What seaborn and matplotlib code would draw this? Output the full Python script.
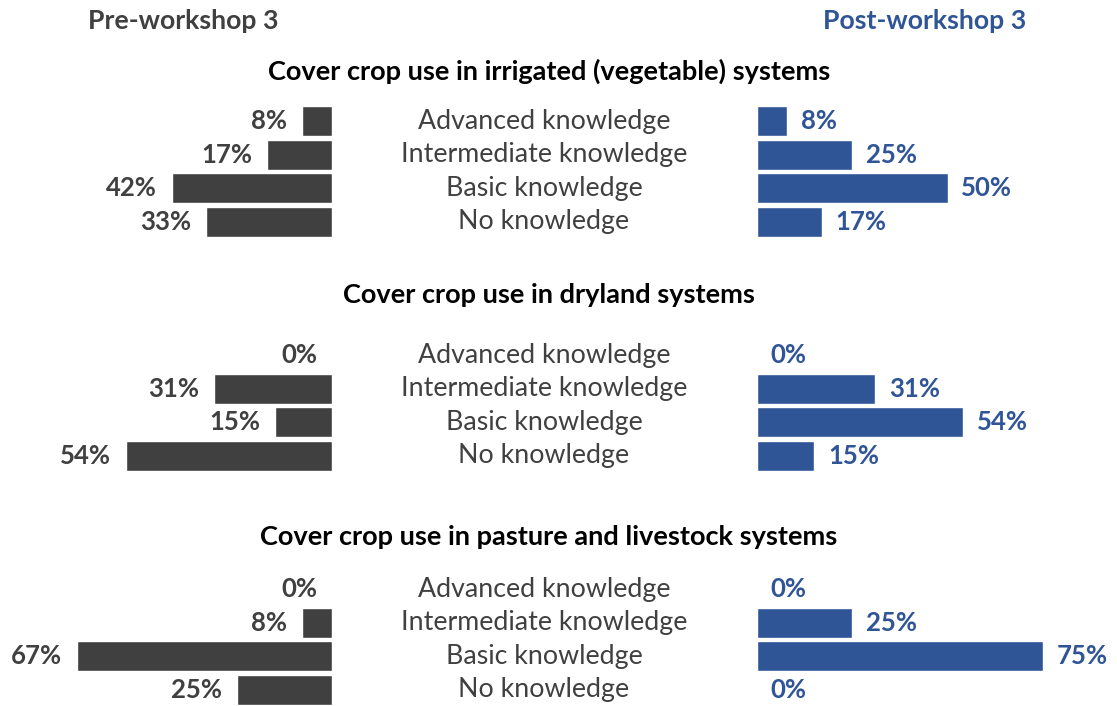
import matplotlib
matplotlib.use("Agg")
import matplotlib.pyplot as plt
import seaborn as sns
import pandas as pd

levels = ["Advanced knowledge", "Intermediate knowledge", "Basic knowledge", "No knowledge"]
titles = ["Cover crop use in irrigated (vegetable) systems",
          "Cover crop use in dryland systems",
          "Cover crop use in pasture and livestock systems"]
pre = [[8, 17, 42, 33],
       [0, 31, 15, 54],
       [0, 8, 67, 25]]
post = [[8, 25, 50, 17],
        [0, 31, 54, 15],
        [0, 25, 75, 0]]

pre_color = "#404040"
post_color = "#2F5597"

sns.set_theme(style="white")
plt.rcParams["font.family"] = ["Lato", "DejaVu Sans"]

W, H = 1117, 706
fig = plt.figure(figsize=(W / 100, H / 100), dpi=100)

row_h = 33.6
centers = [171.5, 405.5, 639.5]   # pixel y of group middles
title_y = [71, 295, 537]

left_x0, left_x1 = 0, 332
right_x0, right_x1 = 757, 1117
px_per = 3.81

for g in range(3):
    bottom = H - (centers[g] + 2 * row_h)
    hfrac = 4 * row_h / H
    df = pd.DataFrame({"level": levels, "pre": pre[g], "post": post[g]})

    axl = fig.add_axes([left_x0 / W, bottom / H, (left_x1 - left_x0) / W, hfrac])
    sns.barplot(data=df, x="pre", y="level", orient="h", color=pre_color,
                saturation=1, width=0.9, edgecolor="white", linewidth=1, ax=axl)
    axl.set_xlim((left_x1 - left_x0) / px_per, 0)
    axl.set_ylim(3.5, -0.5)
    for i, v in enumerate(pre[g]):
        axl.text(v + 3.9, i, f"{v}%", ha="right", va="center", fontsize=18.5,
                 fontweight="bold", color=pre_color)

    axr = fig.add_axes([right_x0 / W, bottom / H, (right_x1 - right_x0) / W, hfrac])
    sns.barplot(data=df, x="post", y="level", orient="h", color=post_color,
                saturation=1, width=0.9, edgecolor="white", linewidth=1, ax=axr)
    axr.set_xlim(0, (right_x1 - right_x0) / px_per)
    axr.set_ylim(3.5, -0.5)
    for i, v in enumerate(post[g]):
        axr.text(v + 3.6, i, f"{v}%", ha="left", va="center", fontsize=18.5,
                 fontweight="bold", color=post_color)

    for ax in (axl, axr):
        ax.axis("off")

    for i, lab in enumerate(levels):
        fig.text(544 / W, 1 - (centers[g] + (i - 1.5) * row_h) / H, lab,
                 ha="center", va="center", fontsize=19.3, color=pre_color)

    fig.text(549 / W, 1 - title_y[g] / H, titles[g], ha="center", va="center",
             fontsize=19.5, fontweight="bold", color="black")

fig.text(183 / W, 1 - 21 / H, "Pre-workshop 3", ha="center", va="center",
         fontsize=19.2, fontweight="bold", color=pre_color)
fig.text(925 / W, 1 - 21 / H, "Post-workshop 3", ha="center", va="center",
         fontsize=19.2, fontweight="bold", color=post_color)

fig.savefig("out.png", dpi=100)
